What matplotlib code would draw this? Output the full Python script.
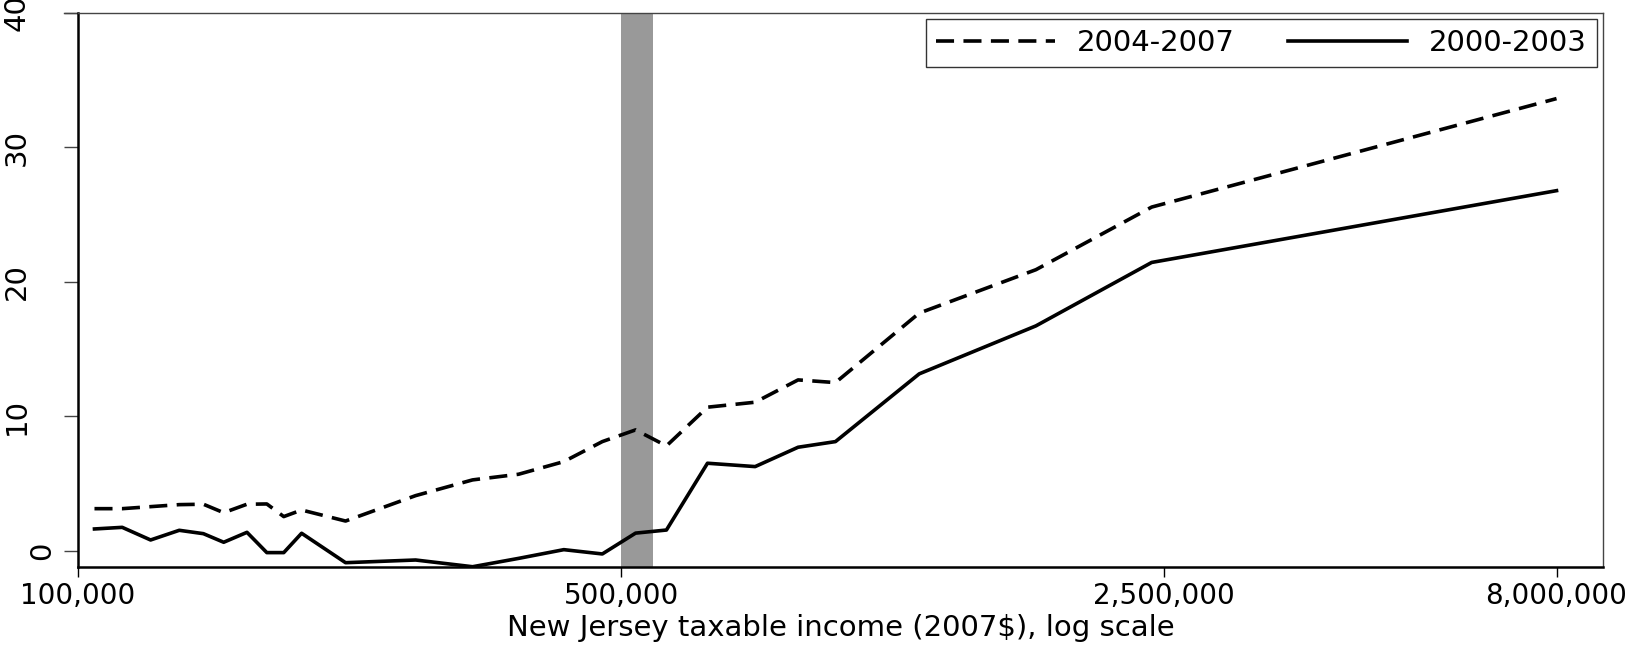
import matplotlib
matplotlib.use("Agg")
import matplotlib.pyplot as plt
import matplotlib.transforms as mtransforms
from matplotlib import font_manager
from matplotlib.lines import Line2D

# income bins (2007$) and effect by period
income = [105000, 114000, 124000, 135000, 145000, 154000, 165000, 175000, 184000, 194000,
          221000, 272000, 322000, 369000, 422000, 473000, 522000, 572000, 646000, 744000,
          845000, 944000, 1210000, 1710000, 2410000, 8000000]
p2000_2003 = [1.61, 1.73, 0.79, 1.51, 1.26, 0.62, 1.36, -0.15, -0.15, 1.29,
              -0.9, -0.7, -1.2, -0.58, 0.07, -0.25, 1.30, 1.53, 6.5, 6.25,
              7.69, 8.11, 13.15, 16.72, 21.44, 26.78]
p2004_2007 = [3.12, 3.12, 3.27, 3.42, 3.45, 2.82, 3.45, 3.47, 2.53, 3.02,
              2.2, 4.09, 5.26, 5.68, 6.62, 8.11, 8.98, 7.79, 10.67, 11.04,
              12.7, 12.5, 17.67, 20.9, 25.56, 33.63]
band = (500000, 550000)
xticks = [100000, 500000, 2500000, 8000000]
xticklabels = ["100,000", "500,000", "2,500,000", "8,000,000"]
yticks = [0, 10, 20, 30, 40]

installed = {f.name for f in font_manager.fontManager.ttflist}
yfont = "Liberation Sans Narrow" if "Liberation Sans Narrow" in installed else "DejaVu Sans"

plt.rcParams['font.family'] = ['DejaVu Sans']

fig = plt.figure(figsize=(16.32, 6.46), dpi=100)
ax = fig.add_axes([0.0478, 0.1223, 0.9344, 0.8576])

ax.axvspan(band[0], band[1], color='#999999', lw=0, zorder=1)
ax.plot(income, p2004_2007, color='black', lw=2.6, dashes=(5.0, 2.6), label='2004-2007', zorder=3)
ax.plot(income, p2000_2003, color='black', lw=2.6, label='2000-2003', zorder=3)

ax.set_xscale('log')
ax.set_xlim(100000, 9180000)
ax.set_ylim(-1.22, 40)
ax.set_xticks(xticks)
ax.set_xticklabels(xticklabels, fontsize=20)
ax.minorticks_off()
ax.set_yticks(yticks)
ax.set_yticklabels([str(v) for v in yticks], rotation=90, va='center', fontsize=21, family=yfont)

ax.tick_params(axis='x', length=7, width=1, pad=4, color='black')
ax.tick_params(axis='y', length=10, width=1, pad=24, color='#444444')
ax.set_xlabel("New Jersey taxable income (2007$), log scale", fontsize=21, labelpad=3)

for side in ['left', 'bottom']:
    ax.spines[side].set_linewidth(1.8)
    ax.spines[side].set_color('black')
for side in ['top', 'right']:
    ax.spines[side].set_linewidth(1.0)
    ax.spines[side].set_color('#444444')

# outer border line continues over the y ticks
ax.add_line(Line2D([-14 / 1525, 0], [1, 1], transform=ax.transAxes, color='#444444',
                   lw=1.0, clip_on=False))

# the "0" label sits closer to the axis
zero_lab = ax.get_yticklabels()[0]
zero_lab.set_transform(zero_lab.get_transform() +
                       mtransforms.ScaledTranslation(0.25, 0, fig.dpi_scale_trans))

leg = ax.legend(loc='upper right', ncol=2, fontsize=21, frameon=True, fancybox=False,
                edgecolor='black', handlelength=4.1, handletextpad=0.75, columnspacing=1.8,
                borderpad=0.35, borderaxespad=0.2)
leg.get_frame().set_linewidth(1.0)

fig.savefig("out.png", dpi=100)
